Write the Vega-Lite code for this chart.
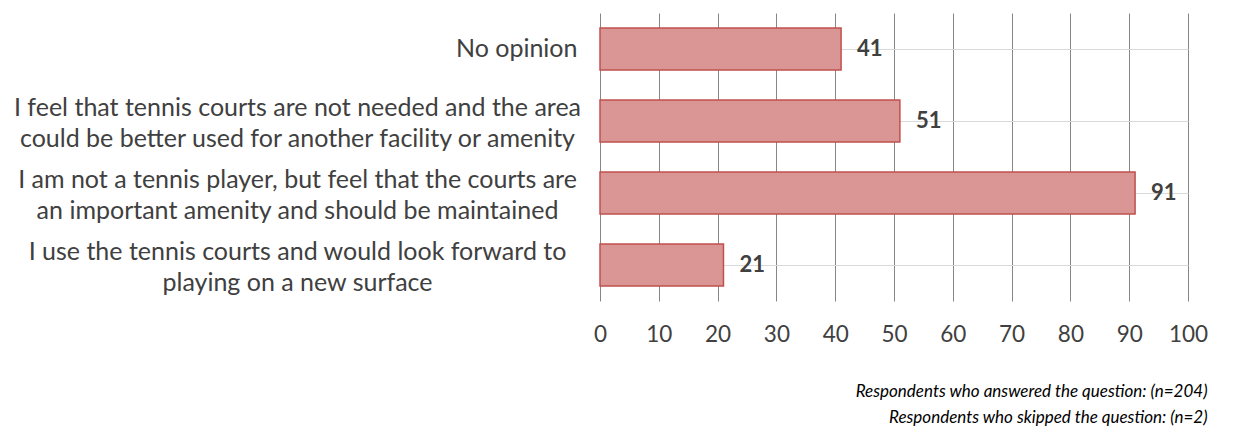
{
  "$schema": "https://vega.github.io/schema/vega-lite/v6.json",
  "width": 588,
  "height": 288,
  "autosize": {"type": "none"},
  "padding": {"left": 600, "top": 13, "right": 64, "bottom": 132},
  "background": "white",
  "config": {"view": {"stroke": null}, "font": "Lato"},
  "title": {
    "text": ["Respondents who answered the question: (n=204)", "Respondents who skipped the question: (n=2)"],
    "orient": "bottom",
    "anchor": "end",
    "frame": "bounds",
    "align": "right",
    "font": "Lato",
    "fontSize": 17,
    "fontStyle": "italic",
    "fontWeight": "normal",
    "color": "#000000",
    "lineHeight": 26,
    "offset": 38
  },
  "data": {
    "values": [
      {"response": "No opinion", "count": 41},
      {"response": "I feel that tennis courts are not needed and the area|could be better used for another facility or amenity", "count": 51},
      {"response": "I am not a tennis player, but feel that the courts are|an important amenity and should be maintained", "count": 91},
      {"response": "I use the tennis courts and would look forward to|playing on a new surface", "count": 21}
    ]
  },
  "encoding": {
    "y": {
      "field": "response",
      "type": "nominal",
      "sort": null,
      "scale": {"paddingInner": 0.42, "paddingOuter": 0.21},
      "axis": {
        "title": null,
        "domain": false,
        "ticks": false,
        "bandPosition": 0.5,
        "grid": true,
        "gridColor": "#D9D9D9",
        "gridWidth": 1,
        "labelExpr": "split(datum.label, '|')",
        "labelFont": "Lato",
        "labelFontSize": 25,
        "labelColor": "#404040",
        "labelLineHeight": 31,
        "labelLimit": 0,
        "labelAlign": {"condition": {"test": "datum.value === 'No opinion'", "value": "right"}, "value": "center"},
        "labelPadding": {"condition": {"test": "datum.value === 'No opinion'", "value": 23}, "value": 303},
        "labelOffset": {"condition": {"test": "datum.value === 'No opinion'", "value": 0}, "value": -13}
      }
    },
    "x": {
      "field": "count",
      "type": "quantitative",
      "scale": {"domain": [0, 100]},
      "axis": {
        "title": null,
        "domain": false,
        "ticks": false,
        "values": [0, 10, 20, 30, 40, 50, 60, 70, 80, 90, 100],
        "grid": true,
        "gridColor": "#868686",
        "gridWidth": 1,
        "labelFont": "Lato",
        "labelFontSize": 22.5,
        "labelColor": "#404040",
        "labelPadding": 22,
        "labelFlush": false
      }
    }
  },
  "layer": [
    {
      "mark": {"type": "bar", "fill": "#D99694", "stroke": "#C0504D", "strokeWidth": 1.5}
    },
    {
      "mark": {"type": "text", "align": "left", "dx": 16, "font": "Lato", "fontSize": 22, "fontWeight": "bold", "color": "#404040"},
      "encoding": {"text": {"field": "count", "type": "quantitative"}}
    }
  ]
}
